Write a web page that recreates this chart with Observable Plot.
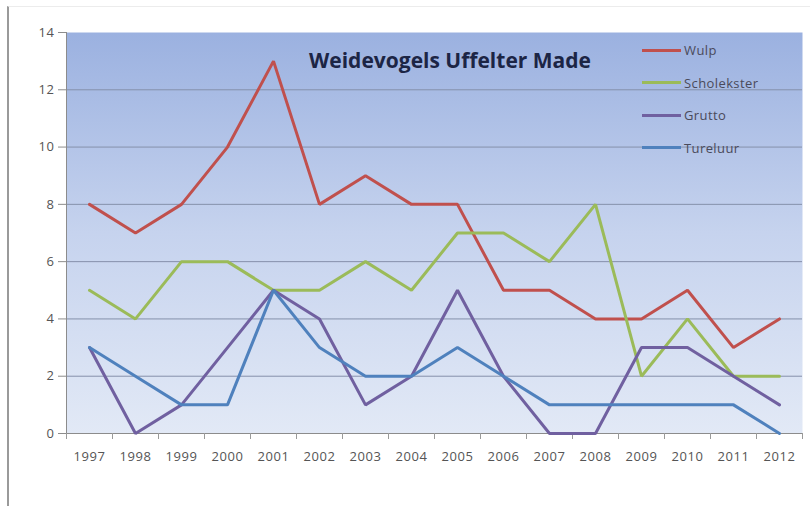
<!DOCTYPE html>
<html>
<head>
<meta charset="utf-8">
<script src="https://cdn.jsdelivr.net/npm/d3@7"></script>
<script src="https://cdn.jsdelivr.net/npm/@observablehq/plot@0.6"></script>
<style>
  html, body { margin: 0; padding: 0; background: #fff; }
  #wrap { position: relative; width: 810px; height: 506px; overflow: hidden; font-family: "Open Sans", Lato, sans-serif; }
  #frame { position: absolute; left: 7px; top: 6px; width: 803px; height: 500px; border-left: 2px solid #9a9a9a; border-top: 1px solid #ececec; box-sizing: border-box; pointer-events: none; }
  #title { position: absolute; left: 250px; top: 46px; width: 400px; text-align: center; font-weight: bold; font-size: 21px; color: #1c2545; white-space: nowrap; }
  #legend { position: absolute; left: 642px; top: 34px; }
  .row { display: flex; align-items: center; height: 32.5px; font-size: 13px; letter-spacing: 0.4px; color: #4a4a5a; }
  .sw { width: 39px; height: 3px; margin-right: 3px; }
</style>
</head>
<body>
<div id="wrap">
  <div id="chart"></div>
  <div id="frame"></div>
  <div id="title"></div>
  <div id="legend"></div>
</div>
<script>
const titleText = "Weidevogels Uffelter Made";
const years = [1997, 1998, 1999, 2000, 2001, 2002, 2003, 2004, 2005, 2006, 2007, 2008, 2009, 2010, 2011, 2012];
const seriesNames = ["Wulp", "Scholekster", "Grutto", "Tureluur"];
const seriesColors = ["#C0504D", "#9BBB59", "#7060A0", "#4F81BD"];
const wulp        = [8, 7, 8, 10, 13, 8, 9, 8, 8, 5, 5, 4, 4, 5, 3, 4];
const scholekster = [5, 4, 6, 6, 5, 5, 6, 5, 7, 7, 6, 8, 2, 4, 2, 2];
const grutto      = [3, 0, 1, 3, 5, 4, 1, 2, 5, 2, 0, 0, 3, 3, 2, 1];
const tureluur    = [3, 2, 1, 1, 5, 3, 2, 2, 3, 2, 1, 1, 1, 1, 1, 0];
const yTicks = [0, 2, 4, 6, 8, 10, 12, 14];
const gridValues = [2, 4, 6, 8, 10, 12];

const seriesValues = [wulp, scholekster, grutto, tureluur];
const data = seriesNames.flatMap((name, i) =>
  years.map((year, j) => ({series: name, year, value: seriesValues[i][j]})));
const boundaries = years.map(y => y - 0.5).concat([years[years.length - 1] + 0.5]);

const svg = Plot.plot({
  width: 810,
  height: 506,
  marginLeft: 66,
  marginRight: 8,
  marginTop: 32,
  marginBottom: 73,
  x: {type: "linear", domain: [boundaries[0], boundaries[boundaries.length - 1]]},
  y: {domain: [0, 14]},
  color: {domain: seriesNames, range: seriesColors},
  style: {fontFamily: "'Open Sans', Lato, sans-serif", fontSize: "13px", letterSpacing: "0.6px", background: "transparent", overflow: "visible"},
  marks: [
    Plot.frame({fill: "url(#bgGrad)", stroke: null}),
    Plot.ruleY(gridValues, {stroke: "#8590ab", strokeWidth: 1}),
    Plot.ruleY([0], {stroke: "#8c8c8c", strokeWidth: 1}),
    Plot.ruleX([boundaries[0]], {stroke: "#8c8c8c", strokeWidth: 1}),
    Plot.axisY({ticks: yTicks, tickSize: 8, tickPadding: 4, label: null, stroke: "#8c8c8c", fill: "#555"}),
    Plot.axisX({ticks: boundaries, tickSize: 6, tickFormat: () => "", label: null, stroke: "#9a9a9a"}),
    Plot.axisX({ticks: years, tickSize: 0, tickPadding: 18, tickFormat: d => String(d), label: null, fill: "#555"}),
    Plot.line(data, {x: "year", y: "value", z: "series", stroke: "series", strokeWidth: 3, strokeLinejoin: "miter"})
  ]
});

svg.insertAdjacentHTML("afterbegin",
  '<defs><linearGradient id="bgGrad" x1="0" y1="0" x2="0" y2="1">' +
  '<stop offset="0" stop-color="#9bb1e0"/>' +
  '<stop offset="0.5" stop-color="#c6d3ee"/>' +
  '<stop offset="1" stop-color="#e2e9f6"/>' +
  '</linearGradient></defs>');

document.getElementById("chart").appendChild(svg);
document.getElementById("title").textContent = titleText;

const legend = document.getElementById("legend");
seriesNames.forEach((name, i) => {
  const row = document.createElement("div");
  row.className = "row";
  const sw = document.createElement("div");
  sw.className = "sw";
  sw.style.background = seriesColors[i];
  const label = document.createElement("span");
  label.textContent = name;
  row.appendChild(sw);
  row.appendChild(label);
  legend.appendChild(row);
});
</script>
</body>
</html>
